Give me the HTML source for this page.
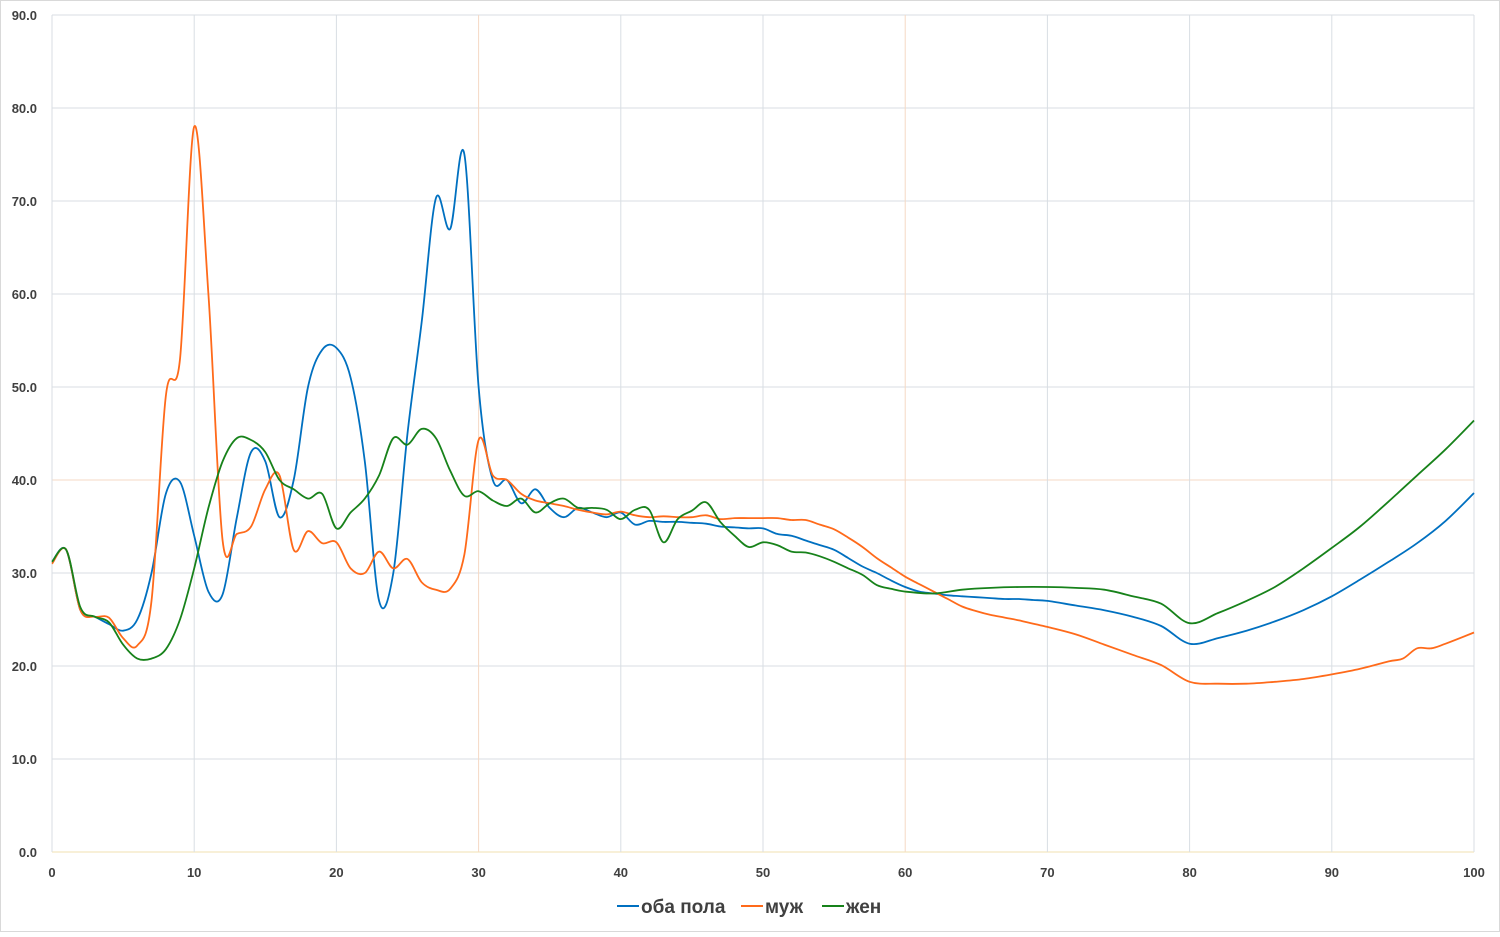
<!DOCTYPE html>
<html><head><meta charset="utf-8"><style>
html,body{margin:0;padding:0;background:#fff;}
body{width:1500px;height:932px;overflow:hidden;font-family:"Liberation Sans","DejaVu Sans",sans-serif;}
svg text{font-family:"Liberation Sans","DejaVu Sans",sans-serif;}
</style></head><body>
<svg id="chart" width="1500" height="932" xmlns="http://www.w3.org/2000/svg">
<rect x="0.5" y="0.5" width="1499" height="931" fill="#fff" stroke="#d9d9d9"/>
<g id="grid"></g>
<g id="ticks"></g>
<g id="series"></g>
<g id="legend"></g>
</svg>
<script>
const xTicks=[0,10,20,30,40,50,60,70,80,90,100];
const yTicks=[0,10,20,30,40,50,60,70,80,90];
const agesA=[0,1,2,3,4,5,6,7,8,9,10,11,12,13,14,15,16,17,18,19,20,21,22,23,24,25,26,27,28,29,30,31,32,33,34,35,36,37,38,39,40,41,42,43,44,45,46,47,48,49,50,51,52,53,54,55,56,57,58,59,60,61,62,63,64,65,66,67,68,69,70,72,74,76,78,80,82,84,86,88,90,92,94,96,98,100];
const both=[31.2,32.5,26,25.3,24.5,23.8,25,30,38.5,39.8,34,28,27.7,36,43,42,36,40,50,54,54.2,51,42,27,30,45,57,70.3,67,75,50,40,40,37.5,39,37,36,37,36.5,36,36.5,35.2,35.6,35.5,35.5,35.4,35.3,35,34.9,34.8,34.8,34.2,34,33.5,33,32.5,31.6,30.7,30,29.2,28.5,28,27.8,27.6,27.5,27.4,27.3,27.2,27.2,27.1,27,26.5,26,25.3,24.3,22.4,23,23.8,24.8,26,27.5,29.3,31.2,33.2,35.6,38.6];
const agesM=[0,1,2,3,4,5,6,7,8,9,10,11,12,13,14,15,16,17,18,19,20,21,22,23,24,25,26,27,28,29,30,31,32,33,34,35,36,37,38,39,40,41,42,43,44,45,46,47,48,49,50,51,52,53,54,55,56,57,58,59,60,61,62,63,64,65,66,67,68,70,72,74,76,78,80,82,84,86,88,90,92,94,95,96,97,98,100];
const male=[31,32.5,26,25.3,25.2,23,22.2,27,49,53,78,60,33.5,34.2,35,39,40.5,32.5,34.5,33.2,33.3,30.5,30,32.3,30.5,31.5,29,28.2,28.3,32,44.3,40.5,40,38.5,37.8,37.5,37.2,36.8,36.5,36.3,36.6,36.2,36,36.1,36,36,36.2,35.8,35.9,35.9,35.9,35.9,35.7,35.7,35.2,34.7,33.8,32.8,31.6,30.6,29.6,28.8,28,27.2,26.4,25.9,25.5,25.2,24.9,24.2,23.4,22.3,21.2,20.1,18.3,18.1,18.1,18.3,18.6,19.1,19.7,20.5,20.8,21.9,21.9,22.4,23.6];
const agesF=[0,1,2,3,4,5,6,7,8,9,10,11,12,13,14,15,16,17,18,19,20,21,22,23,24,25,26,27,28,29,30,31,32,33,34,35,36,37,38,39,40,41,42,43,44,45,46,47,48,49,50,51,52,53,54,55,56,57,58,59,60,62,64,66,68,70,72,74,76,78,80,82,84,86,88,90,92,94,96,98,100];
const female=[31.2,32.5,26.3,25.3,24.7,22.3,20.8,20.8,21.8,25,30.5,37,42,44.5,44.3,43,40,39,38,38.5,34.8,36.5,38,40.5,44.5,43.8,45.5,44.5,41,38.3,38.8,37.8,37.2,38,36.5,37.5,38,37,37,36.8,35.8,36.8,36.8,33.3,35.8,36.7,37.6,35.5,34,32.8,33.3,33,32.3,32.2,31.8,31.2,30.5,29.8,28.7,28.3,28,27.8,28.2,28.4,28.5,28.5,28.4,28.2,27.5,26.7,24.6,25.7,27,28.5,30.5,32.7,35,37.7,40.5,43.3,46.4];
const seriesNames=["оба пола","муж","жен"];
const NS="http://www.w3.org/2000/svg";
const X0=52,X1=1474,Y0=852,Y1=15;
const sx=v=>X0+(X1-X0)*v/100;
const sy=v=>Y0-(Y0-Y1)*v/90;
function mk(t,a,p){const e=document.createElementNS(NS,t);for(const k in a)e.setAttribute(k,a[k]);p.appendChild(e);return e;}
const grid=document.getElementById('grid'),ticks=document.getElementById('ticks');
yTicks.forEach(v=>{
  const l=mk('line',{x1:X0,x2:X1,y1:sy(v),y2:sy(v),stroke:v===40?'#f6d9c4':(v===0?'#f2e1b0':'#d9dee3'),'stroke-width':1},grid);
  
  
  const t=mk('text',{x:37,y:sy(v)+5,'text-anchor':'end','font-size':13,'font-weight':'bold',fill:'#404040'},ticks);
  t.textContent=v.toFixed(1);
  
  
});
xTicks.forEach(v=>{
  const l=mk('line',{x1:sx(v),x2:sx(v),y1:Y1,y2:Y0,stroke:(v===30||v===60)?'#f6d9c4':'#d9dee3','stroke-width':1},grid);
  
  
  const t=mk('text',{x:sx(v),y:877,'text-anchor':'middle','font-size':13,'font-weight':'bold',fill:'#404040'},ticks);
  t.textContent=String(v);
  
  
});
function path(xs,ys){
  const P=xs.map((x,i)=>[sx(x),sy(ys[i])]);
  let d='M'+P[0][0].toFixed(1)+','+P[0][1].toFixed(1);
  for(let i=0;i<P.length-1;i++){
    const p0=P[Math.max(0,i-1)],p1=P[i],p2=P[i+1],p3=P[Math.min(P.length-1,i+2)];
    const c1=[p1[0]+(p2[0]-p0[0])/6,p1[1]+(p2[1]-p0[1])/6];
    const c2=[p2[0]-(p3[0]-p1[0])/6,p2[1]-(p3[1]-p1[1])/6];
    d+='C'+c1[0].toFixed(1)+','+c1[1].toFixed(1)+' '+c2[0].toFixed(1)+','+c2[1].toFixed(1)+' '+p2[0].toFixed(1)+','+p2[1].toFixed(1);
  }
  return d;
}
const ser=document.getElementById('series');
const defs=[[agesA,both,'#0070c0','line-both'],[agesM,male,'#ff6a1a','line-male'],[agesF,female,'#17821a','line-female']];
defs.forEach(s=>{
  const p=mk('path',{d:path(s[0],s[1]),fill:'none',stroke:s[2],'stroke-width':1.8,'stroke-linejoin':'round'},ser);
  
  
});
const leg=document.getElementById('legend');
const lx=[617,741,822],cols=['#0070c0','#ff6a1a','#17821a'];
seriesNames.forEach((n,i)=>{
  const l=mk('line',{x1:lx[i],x2:lx[i]+22,y1:906,y2:906,stroke:cols[i],'stroke-width':2},leg);
  
  
  const t=mk('text',{x:lx[i]+24,y:913,'font-size':19,'font-weight':'bold',fill:'#404040'},leg);
  t.textContent=n;
  
  
});
</script>
</body></html>
